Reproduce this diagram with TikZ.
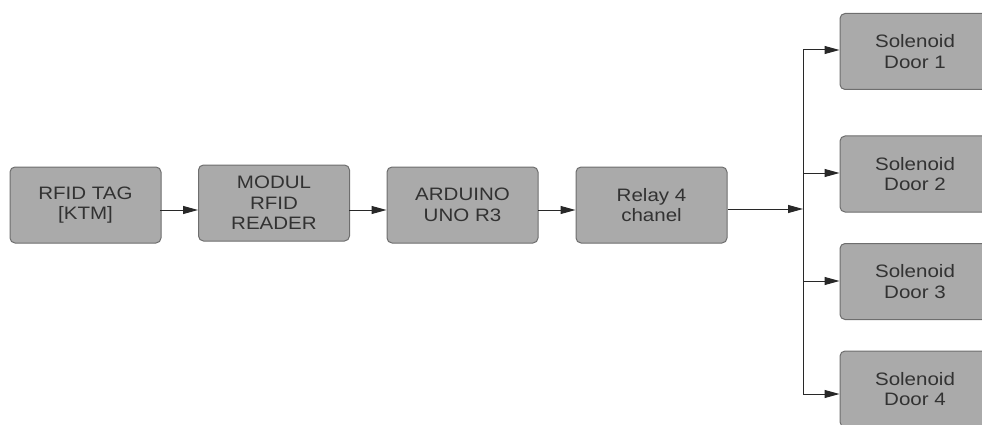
\documentclass[tikz,border=0pt]{standalone}
\usepackage{fontspec}
\setmainfont{Liberation Sans}[FakeStretch=1.14]
\usetikzlibrary{arrows.meta}
\definecolor{boxfill}{RGB}{170,170,170}
\definecolor{boxline}{RGB}{110,110,110}
\definecolor{txt}{RGB}{50,50,50}
\definecolor{lin}{RGB}{40,40,40}
\begin{document}
\begin{tikzpicture}[x=1pt,y=-1pt,
  blk/.style={draw=boxline, fill=boxfill, rounded corners=5pt, minimum width=151pt,
    minimum height=76pt, align=center, font=\fontsize{18}{20.5}\selectfont, text=txt,
    inner sep=0pt, line width=1pt},
  arr/.style={draw=lin, line width=1pt, -{Triangle[length=15pt,width=8pt]}}]
\useasboundingbox (0,0) rectangle (982,425);
\clip (0,0) rectangle (982,425);
\node[blk] (tag)   at (85.5,205) {RFID TAG\\{[KTM]}};
\node[blk] (modul) at (274,203)  {MODUL\\RFID\\READER};
\node[blk] (ard)   at (462.5,205) {ARDUINO\\UNO R3};
\node[blk] (relay) at (651.5,205) {Relay 4\\chanel};
\node[blk, minimum width=150pt] (d1) at (915,51.5)  {Solenoid\\Door 1};
\node[blk, minimum width=150pt] (d2) at (915,174)   {Solenoid\\Door 2};
\node[blk, minimum width=150pt] (d3) at (915,281.5) {Solenoid\\Door 3};
\node[blk, minimum width=150pt] (d4) at (915,389)   {Solenoid\\Door 4};
\coordinate (a1) at (160,210);
\coordinate (a2) at (349,210);
\coordinate (a3) at (538,210);
\draw[arr] (a1) -- (a1 -| modul.west);
\draw[arr] (a2) -- (a2 -| ard.west);
\draw[arr] (a3) -- (a3 -| relay.west);
\coordinate (t1) at (803,50);
\coordinate (t2) at (803,173);
\coordinate (t3) at (803,281);
\coordinate (t4) at (803,394);
\coordinate (j)  at (803,209);
\draw[draw=lin, line width=1pt] (t1) -- (t4);
\draw[arr] (relay.east |- j) -- (j);
\draw[arr] (t1) -- (t1 -| d1.west);
\draw[arr] (t2) -- (t2 -| d2.west);
\draw[arr] (t3) -- (t3 -| d3.west);
\draw[arr] (t4) -- (t4 -| d4.west);
\end{tikzpicture}
\end{document}
